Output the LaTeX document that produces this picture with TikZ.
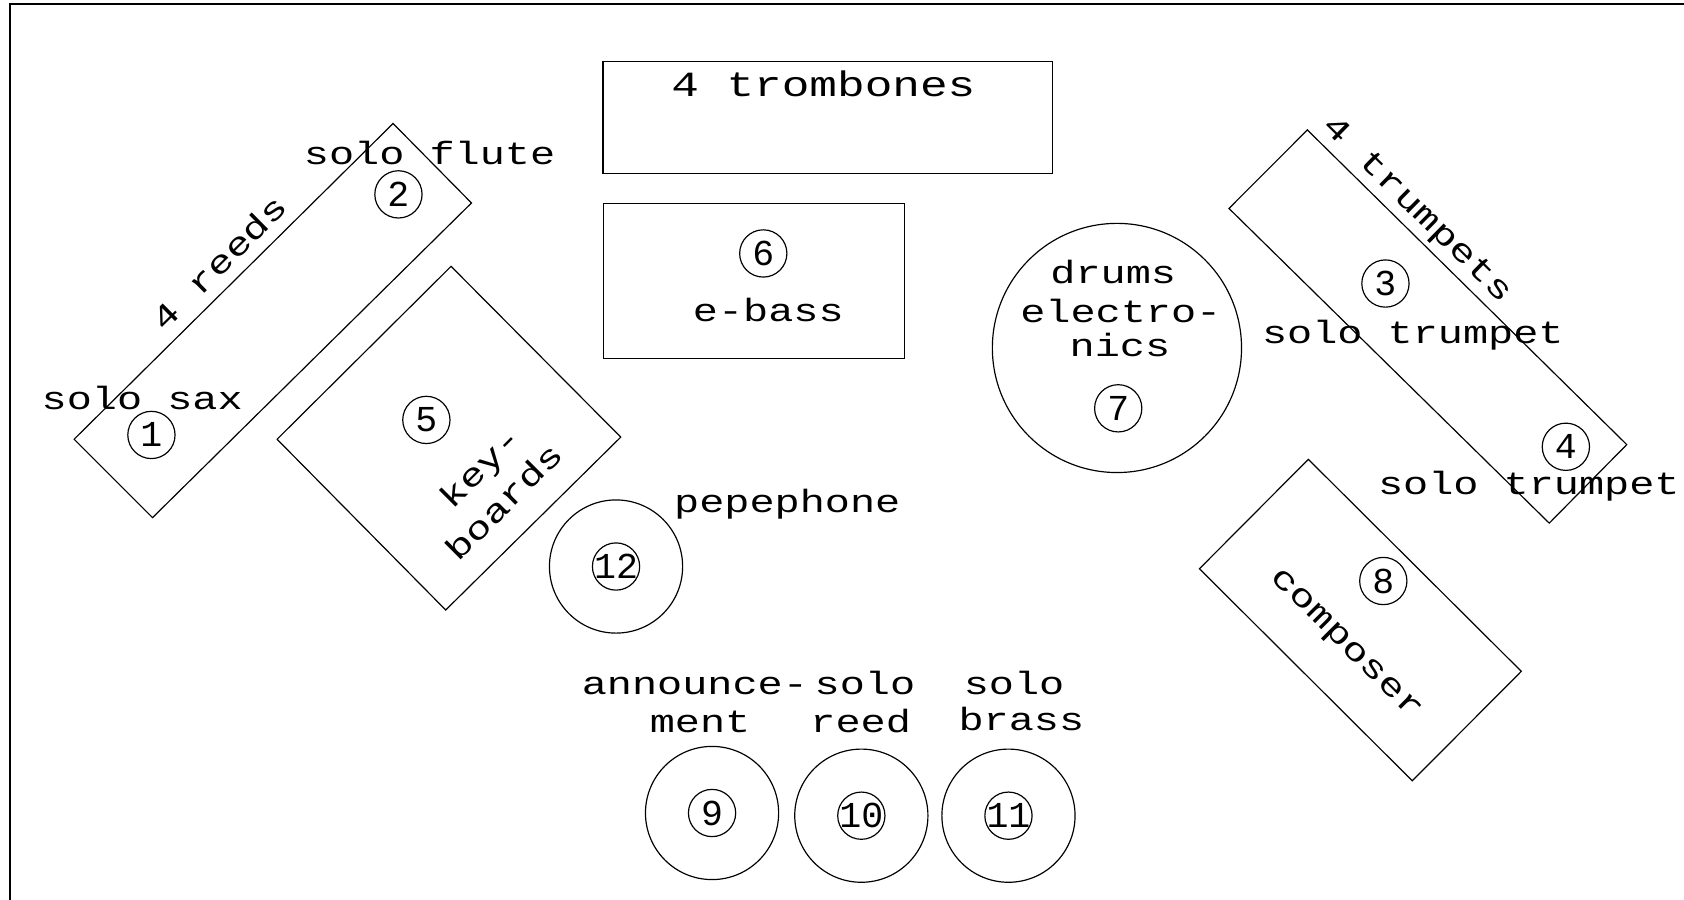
\documentclass[tikz,border=0pt]{standalone}
\usepackage{fontspec}
\newfontfamily\cad[FakeStretch=1.3]{Liberation Mono}
\newfontfamily\caddigit{Liberation Mono}
\begin{document}
\begin{tikzpicture}[x=0.5pt,y=-0.5pt,
  outline/.style={line width=0.55pt},
  lbl/.style={font=\cad\fontsize{15}{18}\selectfont, inner sep=0pt, anchor=base},
  biglbl/.style={font=\cad\fontsize{16.5}{20}\selectfont, inner sep=0pt, anchor=base},
  rot/.style={lbl, anchor=center, rotate=#1},
  ring/.style={circle, draw, line width=0.55pt, minimum size=22pt, inner sep=0pt},
  digit/.style={font=\caddigit\fontsize{17}{20}\selectfont, inner sep=0pt},
  seat/.style={circle, draw, line width=0.55pt, minimum size=62pt, inner sep=0pt},
  drumseat/.style={circle, draw, line width=0.55pt, minimum size=116pt, inner sep=0pt},
]
\useasboundingbox (0,0) rectangle (1568,838);
% frame
\draw[line width=1pt] (9.5,838) -- (9.5,4) -- (1568,4);

% trombones
\draw[outline] (561.4,57.4) rectangle (980,161.7);
\node[biglbl] (trb) at (766.6,90) {4 trombones};

% e-bass
\draw[outline] (561.7,189.3) rectangle (842,333.6);
\node[ring] (c6) at (710.7,236) {};
\node[digit] (d6) at (c6) {6};
\node[lbl] (ebass) at (715.4,299.5) {e-bass};

% reeds
\draw[outline] (366,115) -- (439,189) -- (142,482) -- (69,409) -- cycle;
\node[ring] (c1) at (141,405) {};
\node[digit] (d1) at (c1) {1};
\node[ring] (c2) at (371,181) {};
\node[digit] (d2) at (c2) {2};
\node[lbl] (ssax) at (132.4,381) {solo sax};
\node[lbl] (sflute) at (400,153) {solo flute};
\node[rot=44.7] (reeds) at (204,244.5) {4 reeds};

% keyboards
\draw[outline] (420,248) -- (578,407) -- (415,568) -- (258,409) -- cycle;
\node[ring] (c5) at (397,391) {};
\node[digit] (d5) at (c5) {5};
\node[rot=45] (key) at (449,437) {key-};
\node[rot=45] (boards) at (469,467) {boards};

% pepephone
\node[seat] (s12) at (573.6,527.5) {};
\node[ring] (c12) at (s12) {};
\node[digit] (d12) at (c12) {12};
\node[lbl] (pepe) at (733,477) {pepephone};

% bottom seats
\node[seat] (s9) at (663,757) {};
\node[ring] (c9) at (s9) {};
\node[digit] (d9) at (c9) {9};
\node[seat] (s10) at (802,759.5) {};
\node[ring] (c10) at (s10) {};
\node[digit] (d10) at (c10) {10};
\node[seat] (s11) at (939,759.5) {};
\node[ring] (c11) at (s11) {};
\node[digit] (d11) at (c11) {11};
\node[lbl] (ann) at (647,647) {announce-};
\node[lbl] (ment) at (651.8,682) {ment};
\node[lbl] (solor) at (805.4,647) {solo};
\node[lbl] (reed) at (801.4,682) {reed};
\node[lbl] (solob) at (944.2,647) {solo};
\node[lbl] (brass) at (951,680) {brass};

% drums
\node[drumseat] (drum) at (1040,324) {};
\node[lbl] (drums) at (1036.6,263.8) {drums};
\node[lbl] (electro) at (1043.6,300.4) {electro-};
\node[lbl] (nics) at (1042.8,331.5) {nics};
\node[ring] (c7) at (1041.2,380.2) {};
\node[digit] (d7) at (c7) {7};

% trumpets
\draw[outline] (1217.3,121) -- (1514.7,414) -- (1442.5,487.1) -- (1144.3,194.1) -- cycle;
\node[ring] (c3) at (1290,264) {};
\node[digit] (d3) at (c3) {3};
\node[ring] (c4) at (1458,416) {};
\node[digit] (d4) at (c4) {4};
\node[rot=-44.5] (trp) at (1319,196) {4 trumpets};
\node[lbl] (st1) at (1315.5,320) {solo trumpet};
\node[lbl] (st2) at (1423.5,460) {solo trumpet};

% composer
\draw[outline] (1218.2,427.7) -- (1416.5,625.1) -- (1315,727) -- (1116.8,529.6) -- cycle;
\node[ring] (c8) at (1288,541) {};
\node[digit] (d8) at (c8) {8};
\node[rot=-45] (comp) at (1252,601) {composer};
\end{tikzpicture}
\end{document}
